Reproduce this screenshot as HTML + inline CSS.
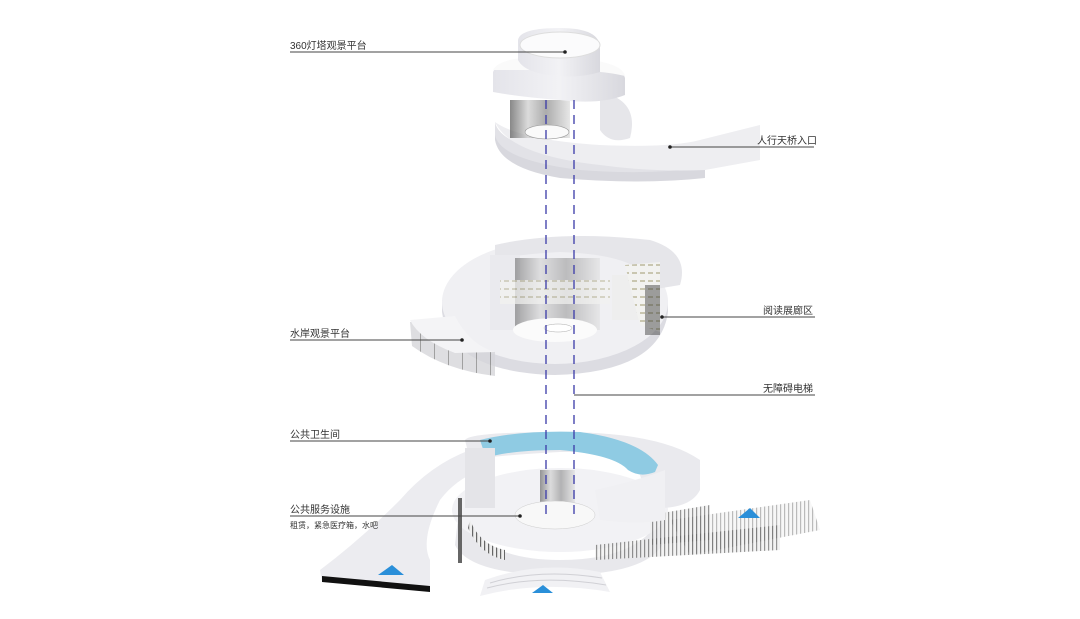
<!DOCTYPE html>
<html><head><meta charset="utf-8"><style>
html,body{margin:0;padding:0;background:#fff;width:1080px;height:619px;overflow:hidden}
svg{display:block}
text{font-family:"Liberation Sans","Noto Sans CJK SC",sans-serif;font-size:10px;fill:#333}
</style></head><body>
<svg width="1080" height="619" viewBox="0 0 1080 619" xmlns="http://www.w3.org/2000/svg">
<defs>
<linearGradient id="side" x1="0" x2="1"><stop offset="0" stop-color="#e4e4ea"/><stop offset="0.5" stop-color="#f2f2f5"/><stop offset="1" stop-color="#d8d8de"/></linearGradient>
<linearGradient id="glass" x1="0" x2="1"><stop offset="0" stop-color="#555"/><stop offset="0.3" stop-color="#ccc"/><stop offset="0.6" stop-color="#888"/><stop offset="1" stop-color="#ddd"/></linearGradient>
<pattern id="bars" width="4" height="10" patternUnits="userSpaceOnUse"><rect width="4" height="10" fill="#eee"/><rect width="1.2" height="10" fill="#666"/></pattern>
<pattern id="panel" width="14" height="10" patternUnits="userSpaceOnUse"><rect width="14" height="10" fill="#d6d6da"/><rect width="1" height="10" fill="#888"/></pattern>
<pattern id="shelf" width="8" height="8" patternUnits="userSpaceOnUse"><rect width="8" height="8" fill="#f2f2f0"/><rect width="5" height="2" fill="#c9c6b0"/></pattern>
</defs>

<!-- ===== TOP ===== -->
<path d="M495 125 Q500 160 600 168 Q670 172 705 168 L705 178 Q640 185 560 178 Q500 168 495 140 Z" fill="#d8d8de"/>
<path d="M495 122 Q500 150 600 160 Q670 162 705 155 L705 168 Q640 175 580 170 Q500 160 495 135 Z" fill="#e2e2e7"/>
<path d="M495 122 Q520 140 600 145 Q670 148 700 140 L760 125 L760 160 L705 170 Q650 172 600 165 Q510 155 495 122Z" fill="#eeeef1"/>
<rect x="510" y="100" width="60" height="38" fill="url(#glass)" opacity="0.7"/>
<ellipse cx="547" cy="132" rx="22" ry="7" fill="#fafafa" stroke="#999" stroke-width="0.6"/>
<path d="M600 92 Q640 100 630 138 Q610 145 600 130 Z" fill="#e6e6ea"/>
<path d="M493 72 Q500 55 560 58 Q620 60 625 78 L625 95 Q600 105 560 100 Q520 97 493 92 Z" fill="url(#side)"/>
<path d="M493 70 Q500 55 560 57 Q622 60 625 76 Q600 70 560 70 Q520 70 493 70Z" fill="#fafafa"/>
<path d="M518 40 Q520 28 560 28 Q600 28 600 48 L600 72 Q580 78 560 76 Q525 74 518 60 Z" fill="url(#side)"/>
<ellipse cx="560" cy="45" rx="40" ry="13" fill="#fbfbfc" stroke="#ddd"/>

<!-- ===== MIDDLE ===== -->
<path d="M442 300 L442 312 Q450 372 555 375 Q660 372 668 312 L668 300 Z" fill="#dcdce2"/>
<ellipse cx="555" cy="302" rx="113" ry="62" fill="#f0f0f3"/>
<path d="M495 245 Q560 230 650 240 Q690 252 680 285 L650 290 Q650 255 560 252 Q510 255 495 260 Z" fill="#e6e6ea"/>
<rect x="490" y="255" width="30" height="75" fill="#eaeaee"/>
<rect x="515" y="258" width="85" height="72" fill="url(#glass)" opacity="0.5"/>
<rect x="500" y="280" width="110" height="24" fill="url(#shelf)" opacity="0.7"/>
<ellipse cx="555" cy="330" rx="42" ry="12" fill="#fbfbfb"/>
<ellipse cx="558" cy="328" rx="14" ry="4" fill="#fff" stroke="#aaa" stroke-width="0.5"/>
<rect x="612" y="275" width="35" height="45" fill="#eeeeee"/>
<path d="M625 265 L660 262 L660 332 L640 325 Z" fill="url(#shelf)"/>
<rect x="645" y="285" width="15" height="50" fill="#333" opacity="0.45"/>
<path d="M410 322 L455 318 Q465 345 495 352 L495 376 Q445 370 412 346 Z" fill="url(#panel)" opacity="0.8"/>
<path d="M410 320 L455 316 Q470 345 495 352 L455 353 Q420 340 410 320 Z" fill="#f4f4f6"/>

<!-- ===== BOTTOM ===== -->
<path d="M320 570 Q360 540 400 500 Q430 465 470 450 L480 470 Q455 480 440 500 Q420 540 430 560 L430 590 L322 582 Z" fill="#ececf0"/>
<path d="M322 576 L430 586 L430 592 L322 582 Z" fill="#111"/>
<path d="M378 575 L392 565 L404 575 Z" fill="#2a8fd9"/>
<path d="M460 500 Q470 560 560 560 Q650 560 665 505 L665 540 Q650 575 560 575 Q470 575 455 545 Z" fill="#e8e8ec"/>
<ellipse cx="560" cy="510" rx="108" ry="42" fill="#f2f2f5"/>
<path d="M468 528 Q480 555 505 560 L505 550 Q480 545 470 520 Z" fill="url(#bars)"/>
<path d="M595 545 L780 525 L780 550 L595 560 Z" fill="url(#bars)" opacity="0.7"/>
<path d="M650 515 L710 505 L710 540 L650 545 Z" fill="url(#bars)" opacity="0.7"/>
<path d="M670 520 L810 500 L820 530 L690 555 Z" fill="url(#bars)" opacity="0.45"/>
<path d="M738 518 L750 508 L760 518 Z" fill="#2a8fd9"/>
<path d="M485 580 Q540 560 600 572 L610 592 Q540 580 480 596 Z" fill="#f1f1f4"/>
<path d="M490 583 Q540 568 602 578 M487 588 Q540 574 606 585" stroke="#d0d0d5" fill="none"/>
<path d="M532 593 L543 585 L553 593 Z" fill="#2a8fd9"/>
<path d="M465 440 Q470 432 560 432 Q660 432 700 460 L700 490 Q690 510 650 508 L640 475 Q620 450 560 452 Q500 455 470 460 Z" fill="#eaeaee"/>
<path d="M480 440 Q520 430 580 432 Q640 440 658 465 L655 472 Q640 478 628 470 Q615 455 560 450 Q510 450 486 458 Z" fill="#8fcbe3"/>
<rect x="465" y="448" width="30" height="60" fill="#e4e4e8"/>
<rect x="540" y="470" width="35" height="50" fill="url(#glass)" opacity="0.6"/>
<ellipse cx="555" cy="515" rx="40" ry="14" fill="#f8f8f8" stroke="#ccc" stroke-width="0.5"/>
<path d="M595 490 Q640 480 665 470 L665 520 Q640 525 600 520 Z" fill="#f0f0f3"/>
<rect x="458" y="498" width="4" height="65" fill="#666"/>

<!-- dashed elevator lines -->
<line x1="546" y1="100" x2="546" y2="520" stroke="#3a3aa8" stroke-width="1.3" stroke-dasharray="9,6"/>
<line x1="574" y1="100" x2="574" y2="520" stroke="#3a3aa8" stroke-width="1.3" stroke-dasharray="9,6"/>

<!-- labels -->
<g stroke="#444" stroke-width="1">
<line x1="290" y1="52" x2="564" y2="52"/>
<line x1="670" y1="147" x2="814" y2="147"/>
<line x1="662" y1="317" x2="815" y2="317"/>
<line x1="290" y1="340" x2="462" y2="340"/>
<line x1="574" y1="395" x2="815" y2="395"/>
<line x1="290" y1="441" x2="490" y2="441"/>
<line x1="290" y1="516" x2="520" y2="516"/>
</g>
<g fill="#222"><circle cx="565" cy="52" r="1.8"/><circle cx="670" cy="147" r="1.8"/><circle cx="662" cy="317" r="1.8"/><circle cx="462" cy="340" r="1.8"/><circle cx="490" cy="441" r="1.8"/><circle cx="520" cy="516" r="1.8"/></g>
<text x="290" y="49">360灯塔观景平台</text>
<text x="757" y="144">人行天桥入口</text>
<text x="763" y="314">阅读展廊区</text>
<text x="290" y="337">水岸观景平台</text>
<text x="763" y="392">无障碍电梯</text>
<text x="290" y="438">公共卫生间</text>
<text x="290" y="513">公共服务设施</text>
<text x="290" y="528" style="font-size:8px">租赁，紧急医疗箱，水吧</text>
</svg>
</body></html>
